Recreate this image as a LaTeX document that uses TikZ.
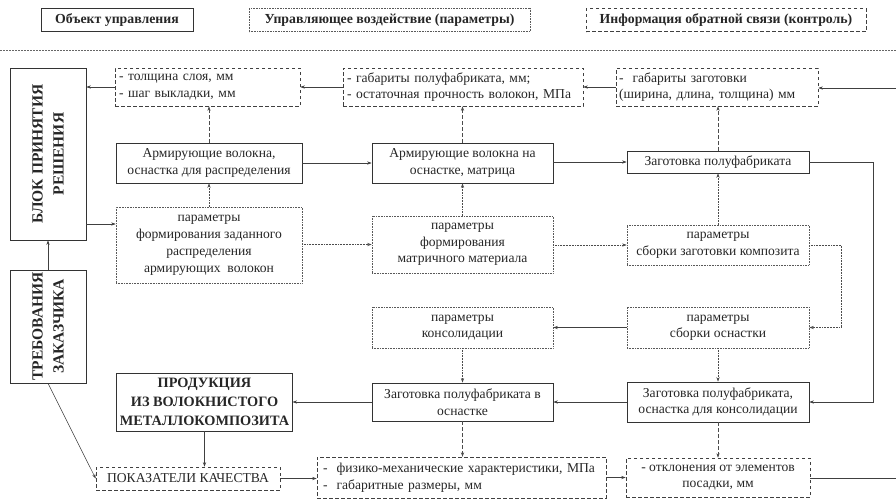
\documentclass[tikz,border=0pt]{standalone}
\usepackage{fontspec}
\setmainfont{Liberation Serif}
\usetikzlibrary{arrows.meta}
\newcommand\fnrm{\fontsize{13.6}{16.5}\selectfont}
\newcommand\fbld{\fontsize{13.8}{16}\selectfont\bfseries}
\newcommand\fbig{\fontsize{14.3}{19}\selectfont\bfseries}
\newcommand\frotb{\fontsize{15.5}{21}\selectfont\bfseries}
\begin{document}
\begin{tikzpicture}[x=1pt,y=-1pt,
  objbox/.style={draw=black!80, line width=0.7pt, rectangle, inner sep=3pt, align=center, font=\fnrm, text=black!85},
  ctlbox/.style={draw=black!65, line width=0.6pt, densely dotted, rectangle, inner sep=3pt, align=center, font=\fnrm, text=black!85},
  fbbox/.style={draw=black!75, line width=0.6pt, dash pattern=on 3.5pt off 2.5pt, rectangle, inner sep=3pt, align=center, font=\fnrm, text=black!85},
  arr/.style={-{Stealth[length=4.5pt,width=3.2pt]}, draw=black!75, line width=0.55pt},
  plain/.style={draw=black!75, line width=0.55pt},
  ctlln/.style={densely dotted, draw=black!70},
  fbln/.style={dash pattern=on 3.5pt off 2.5pt, draw=black!70},
  seprule/.style={draw=black!60, line width=0.6pt, dash pattern=on 2pt off 1pt}
]
\useasboundingbox (0,0) rectangle (896,498);

% legend
\node[objbox, minimum width=152pt, minimum height=23pt, font=\fbld] (L1) at (117,20) {Объект управления};
\node[ctlbox, minimum width=281pt, minimum height=23pt, font=\fbld] (L2) at (389.5,20) {Управляющее воздействие (параметры)};
\node[fbbox, minimum width=280pt, minimum height=23pt, font=\fbld] (L3) at (726,20) {Информация обратной связи (контроль)};
\coordinate (DL) at (0,50);
\coordinate (DR) at (896,50);
\draw[seprule] (DL) -- (DR);

% left column
\node[objbox, minimum width=76pt, minimum height=172pt] (BL) at (48,154) {};
\node[rotate=90, font=\frotb, align=center, text=black!85] (BLt) at (BL.center) {БЛОК ПРИНЯТИЯ\\РЕШЕНИЯ};
\node[objbox, minimum width=76pt, minimum height=113pt] (TR) at (48,326.5) {};
\node[rotate=90, font=\frotb, align=center, text=black!85] (TRt) at (TR.center) {ТРЕБОВАНИЯ\\ЗАКАЗЧИКА};

% row A (feedback)
\node[fbbox, align=left, text width=177pt, inner sep=4pt, minimum height=38pt] (A1) at (207.5,87) {- толщина слоя, мм\\- шаг выкладки, мм};
\node[fbbox, align=left, text width=232pt, inner sep=4pt, minimum height=38pt] (A2) at (463,87) {- габариты полуфабриката, мм;\\- остаточная прочность волокон, МПа};
\node[fbbox, align=left, text width=196pt, inner sep=3pt, minimum height=38pt] (A3) at (717,87) {-\ \ габариты заготовки\\(ширина, длина, толщина) мм};

% row B (objects)
\node[objbox, minimum width=186pt, minimum height=40pt] (B1) at (209,163) {Армирующие волокна,\\оснастка для распределения};
\node[objbox, minimum width=181pt, minimum height=40pt] (B2) at (462.5,163) {Армирующие волокна на\\оснастке, матрица};
\node[objbox, minimum width=182pt, minimum height=22pt] (B3) at (718,162) {Заготовка полуфабриката};

% row C (control)
\node[ctlbox, minimum width=186pt, minimum height=76pt, font=\fontsize{13.6}{17}\selectfont] (C1) at (209,245) {параметры\\формирования заданного\\распределения\\армирующих\ \ волокон};
\node[ctlbox, minimum width=181pt, minimum height=57pt] (C2) at (462.5,244.5) {параметры\\формирования\\матричного материала};
\node[ctlbox, minimum width=182pt, minimum height=40pt] (C3) at (718,245) {параметры\\сборки заготовки композита};

% row D (control)
\node[ctlbox, minimum width=181pt, minimum height=41pt] (D2) at (462.5,327.5) {параметры\\консолидации};
\node[ctlbox, minimum width=182pt, minimum height=41pt] (D3) at (718,327.5) {параметры\\сборки оснастки};

% row E (objects)
\node[objbox, minimum width=175pt, minimum height=58pt, font=\fbig] (E1) at (204.5,402) {ПРОДУКЦИЯ\\ИЗ ВОЛОКНИСТОГО\\МЕТАЛЛОКОМПОЗИТА};
\node[objbox, minimum width=181pt, minimum height=38pt] (E2) at (462.5,402) {Заготовка полуфабриката в\\оснастке};
\node[objbox, minimum width=182pt, minimum height=40pt] (E3) at (718,402) {Заготовка полуфабриката,\\оснастка для консолидации};

% row F (feedback)
\node[fbbox, minimum width=184pt, minimum height=23pt] (F1) at (188,478.5) {ПОКАЗАТЕЛИ КАЧЕСТВА};
\node[fbbox, align=left, text width=277pt, inner sep=6pt, minimum height=39pt] (F2) at (461.5,477.5) {-\ \ физико-механические характеристики, МПа\\-\ \ габаритные размеры, мм};
\node[fbbox, minimum width=184pt, minimum height=39pt] (F3) at (718,477.5) {- отклонения от элементов\\посадки, мм};

% helper coordinates
\coordinate (RT) at (896,88);
\coordinate (RB) at (896,478);
\coordinate (Y224) at (0,224);

% connectors: left column
\draw[arr] (TR.north) -- (BL.south);
\draw[arr] (TR.south) -- (F1.west);
\draw[arr] (BL.east |- Y224) -- (C1.west |- Y224);

% row A arrows
\draw[arr] (A1.west) -- (A1.west -| BL.east);
\draw[arr] (A2.west) -- (A2.west -| A1.east);
\draw[arr] (A3.west) -- (A3.west -| A2.east);
\draw[arr] (RT) -- (RT -| A3.east);

% B -> A feedback
\draw[arr, fbln] (B1.north) -- (B1.north |- A1.south);
\draw[arr, fbln] (B2.north) -- (B2.north |- A2.south);
\draw[arr, fbln] (B3.north) -- (B3.north |- A3.south);

% B row
\draw[arr] (B1.east) -- (B1.east -| B2.west);
\draw[arr] (B2.east |- B3.west) -- (B3.west);
\draw[arr] (B3.east) -- ++(64,0) |- (E3.east);

% C -> B control
\draw[arr, ctlln] (C1.north) -- (C1.north |- B1.south);
\draw[arr, ctlln] (C2.north) -- (C2.north |- B2.south);
\draw[arr, ctlln] (C3.north) -- (C3.north |- B3.south);

% C row
\draw[arr, ctlln] (C1.east |- C2.west) -- (C2.west);
\draw[arr, ctlln] (C2.east |- C3.west) -- (C3.west);
\draw[arr, ctlln] (C3.east) -- ++(32,0) |- (D3.east);

% D row
\draw[arr] (D3.west) -- (D2.east);
\draw[arr, ctlln] (D2.south) -- (D2.south |- E2.north);
\draw[arr, ctlln] (D3.south) -- (D3.south |- E3.north);

% E row
\draw[arr] (E3.west) -- (E2.east);
\draw[arr] (E2.west) -- (E2.west -| E1.east);
\draw[arr] (E1.south) -- (E1.south |- F1.north);
\draw[arr, fbln] (E2.south) -- (E2.south |- F2.north);
\draw[arr, fbln] (E3.south) -- (E3.south |- F3.north);

% F row
\draw[arr] (F1.east) -- (F1.east -| F2.west);
\draw[arr] (F2.east |- F3.west) -- (F3.west);
\draw[plain] (F3.east |- RB) -- (RB);
\end{tikzpicture}
\end{document}
